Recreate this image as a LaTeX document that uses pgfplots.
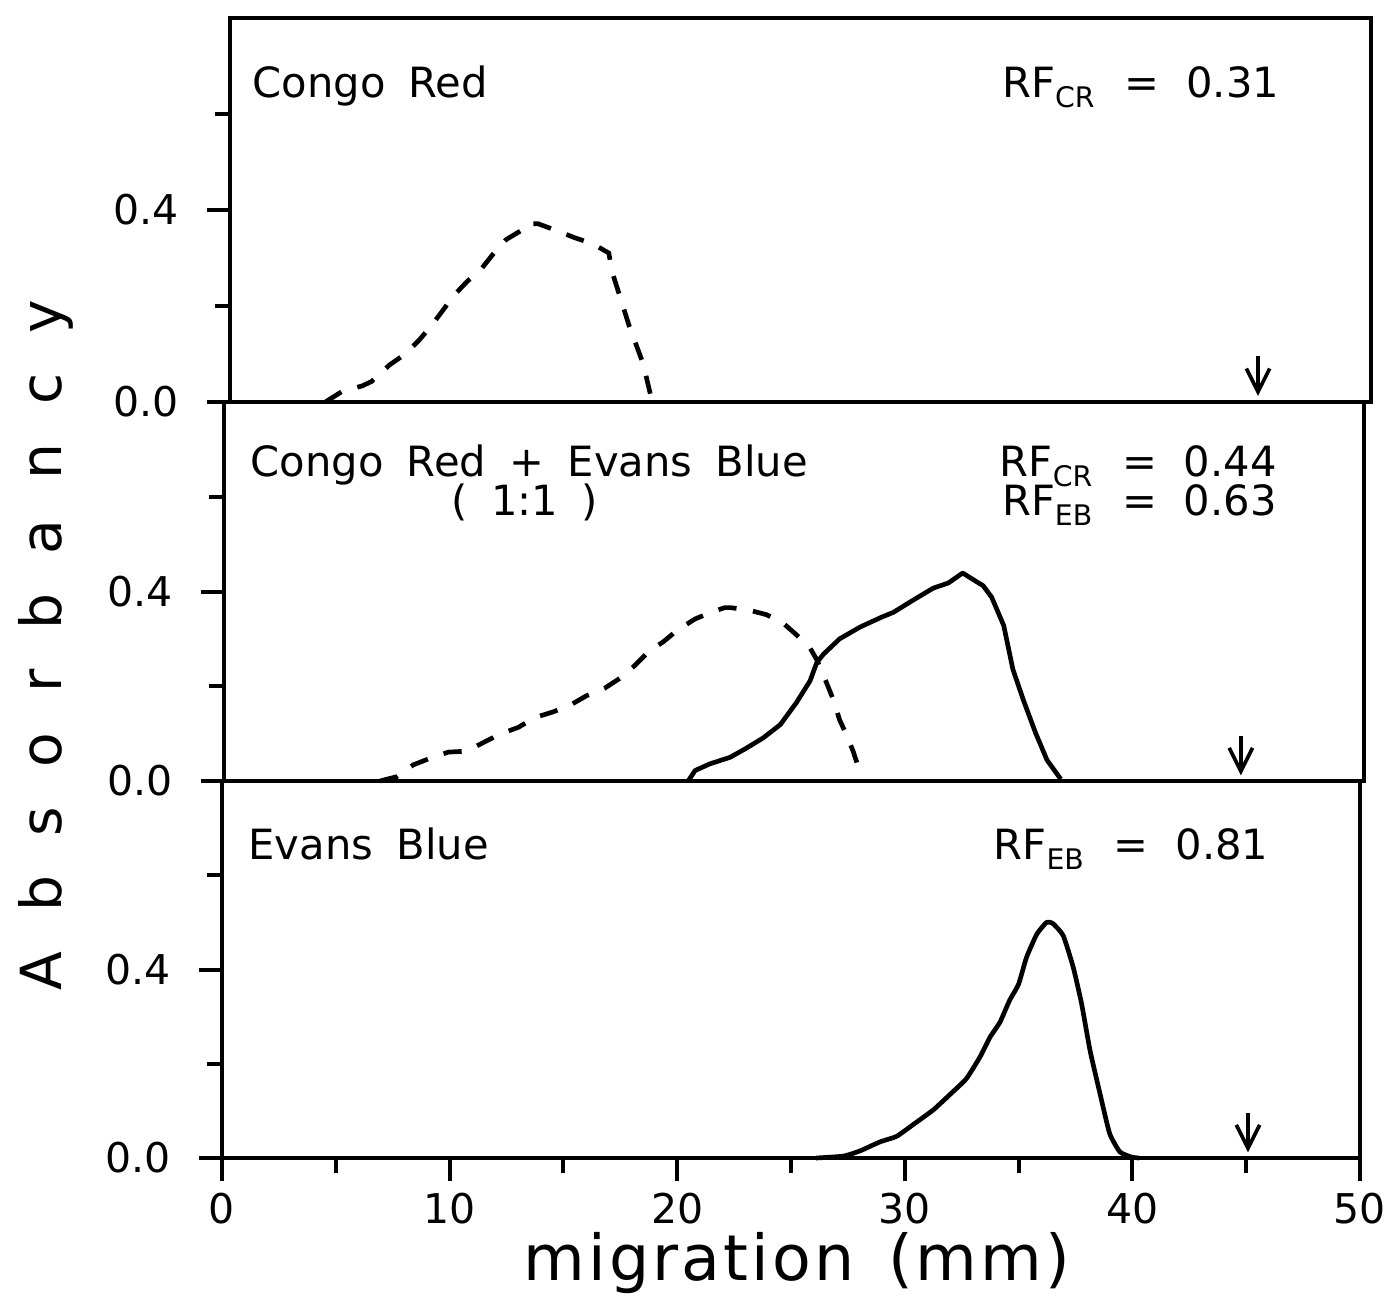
\documentclass[border=0pt]{standalone}
\usepackage{fontspec}
\setmainfont{DejaVu Sans}
\newfontfamily\lsfont[LetterSpace=5]{DejaVu Sans}
\usepackage{pgfplots}
\pgfplotsset{compat=1.18}
\usetikzlibrary{arrows.meta}

\newcommand{\rfsub}[1]{\raisebox{-3pt}{\fontsize{8.5}{9}\selectfont #1}}
\newcommand{\ws}{\hspace{7pt}}
\newcommand{\ls}{\hspace{11.9pt}}
\newcommand{\eqsp}{\hspace{9pt}=\hspace{8pt}}

\tikzset{
 dashcurve/.style={black, line width=1.4pt, dash pattern=on 5.5pt off 5pt},
 solidcurve/.style={black, line width=1.4pt, line join=round},
 txt/.style={font=\fontsize{12.5}{15}\selectfont, inner sep=0pt},
 arr/.style={line width=1.1pt, -{Straight Barb[length=7pt,width=7pt,line width=1.1pt]}},
}
\pgfplotsset{
 panel/.style={
  scale only axis, anchor=south west,
  xmin=0, xmax=50, ymin=0, ymax=0.8,
  axis line style={line width=1.2pt},
  tick style={black, line width=1.2pt},
  tick align=outside,
  xtick pos=left, ytick pos=left,
  major tick length=7pt, minor tick length=4.5pt,
  ytick={0,0.4}, yticklabels={0.0,0.4},
  minor ytick={0.2,0.6},
  yticklabel style={font=\fontsize{12.3}{14}\selectfont, xshift=-5pt},
  clip=false,
 },
}

\pgfplotstableread{
x y
4.2 0
4.9 0.021
5.8 0.033
6.2 0.042
7.0 0.077
7.7 0.100
8.3 0.129
8.8 0.157
9.4 0.195
9.8 0.221
10.4 0.251
11.0 0.276
11.5 0.306
12.1 0.338
12.8 0.358
13.0 0.371
13.5 0.371
14.3 0.357
15.1 0.342
15.9 0.329
16.6 0.310
16.75 0.270
17.5 0.157
18.1 0.080
18.5 0.0
}\topcr

\pgfplotstableread{
x y
6.84 0
7.57 0.009
8.3 0.034
9.04 0.048
9.84 0.061
10.64 0.063
11.37 0.081
12.1 0.099
12.9 0.113
13.64 0.134
14.44 0.146
15.18 0.160
15.9 0.180
16.7 0.196
17.37 0.217
18.0 0.243
18.6 0.272
19.27 0.294
19.9 0.319
20.66 0.342
21.46 0.358
21.97 0.366
22.2 0.366
23.0 0.361
23.8 0.351
24.53 0.333
25.1 0.309
25.7 0.281
26.0 0.256
26.43 0.207
26.73 0.171
27.0 0.129
27.3 0.098
27.6 0.062
27.85 0.025
}\midcr

\pgfplotstableread{
x y
20.36 0
20.66 0.022
21.3 0.036
22.2 0.050
22.9 0.069
23.65 0.091
24.4 0.119
25.1 0.165
25.7 0.211
26.0 0.250
26.3 0.268
27.0 0.300
27.9 0.325
28.85 0.346
29.36 0.356
30.2 0.381
31.1 0.407
31.77 0.418
32.4 0.439
33.3 0.412
33.67 0.388
34.2 0.328
34.6 0.236
35.06 0.171
35.6 0.101
36.1 0.044
36.7 0.004
}\mideb

\pgfplotstableread{
x y
26.1 0
27.3 0.004
28.03 0.015
28.9 0.034
29.64 0.046
30.37 0.071
31.25 0.102
31.99 0.135
32.7 0.168
33.3 0.214
33.74 0.256
34.18 0.288
34.6 0.334
35.0 0.369
35.35 0.426
35.8 0.475
36.23 0.500
36.5 0.498
36.96 0.472
37.4 0.405
37.77 0.327
38.14 0.228
38.58 0.136
39.0 0.052
39.45 0.013
39.96 0.002
40.3 0
}\boteb

\begin{document}
\begin{tikzpicture}
% ---------- top panel ----------
\begin{axis}[panel, at={(2.4pt,226.9pt)}, width=342.3pt, height=115.1pt,
  xtick=\empty, minor xtick={5,10,...,45}]
  \addplot[dashcurve] table[x=x,y=y] {\topcr};
  \node[txt, anchor=base west] at (axis cs:0.96,0.635) {Congo\ws Red};
  \node[txt, anchor=base east] at (axis cs:46.0,0.635) {RF\rfsub{CR}\eqsp 0.31};
  \draw[arr] (axis cs:45.05,0.095) -- (axis cs:45.05,0.012);
\end{axis}
% ---------- middle panel ----------
\begin{axis}[panel, at={(0.6pt,113.1pt)}, width=342pt, height=113.7pt,
  xtick=\empty, minor xtick={5.556,11.111,16.667,22.222,27.778,33.333,38.889,44.444}]
  \addplot[dashcurve] table[x=x,y=y] {\midcr};
  \addplot[solidcurve] table[x=x,y=y] {\mideb};
  \node[txt, anchor=base west] at (axis cs:1.14,0.642) {Congo\ws Red\ws +\ws Evans\ws Blue};
  \node[txt, anchor=base] at (axis cs:13.2,0.561) {(\ws 1:1\ws )};
  \node[txt, anchor=base east] at (axis cs:46.2,0.642) {RF\rfsub{CR}\eqsp 0.44};
  \node[txt, anchor=base east] at (axis cs:46.2,0.561) {RF\rfsub{EB}\eqsp 0.63};
  \draw[arr] (axis cs:44.6,0.095) -- (axis cs:44.6,0.012);
\end{axis}
% ---------- bottom panel ----------
\begin{axis}[panel, at={(0pt,0pt)}, width=341.4pt, height=113.1pt,
  xtick={0,10,...,50}, xticklabels={0,10,20,30,40,50},
  minor xtick={5,15,...,45},
  xticklabel style={font=\fontsize{12.3}{14}\selectfont}]
  \addplot[solidcurve, smooth, tension=0.3] table[x=x,y=y] {\boteb};
  \node[txt, anchor=base west] at (axis cs:1.14,0.633) {Evans\ws Blue};
  \node[txt, anchor=base east] at (axis cs:46.0,0.633) {RF\rfsub{EB}\eqsp 0.81};
  \draw[arr] (axis cs:45.08,0.095) -- (axis cs:45.08,0.012);
\end{axis}
% ---------- axis titles ----------
\node[rotate=90, anchor=base, font=\fontsize{17}{20}\selectfont] at (-48pt,153.9pt)
  {A\ls b\ls s\ls o\ls r\ls b\ls a\ls n\ls c\ls y};
\node[anchor=base, font=\lsfont\fontsize{19}{23}\selectfont] at (172.5pt,-36.6pt)
  {migration\hspace{10pt}(mm)};
\pgfresetboundingbox
\useasboundingbox (-66.6pt,-41.7pt) rectangle (348.9pt,347.4pt);
\end{tikzpicture}
\end{document}
